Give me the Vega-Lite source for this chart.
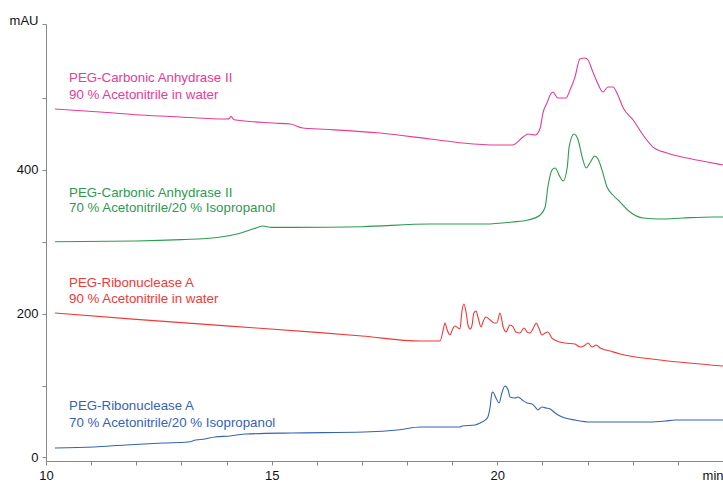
{
  "$schema": "https://vega.github.io/schema/vega-lite/v6.json",
  "width": 677,
  "height": 437,
  "autosize": {"type": "none"},
  "padding": {"left": 46, "top": 24, "right": 0, "bottom": 22},
  "background": "white",
  "config": {"view": {"stroke": null}, "font": "Liberation Sans"},
  "datasets": {
    "traces": [
      {"s": "CA90", "t": 10.2, "v": 484.7}, {"s": "CA90", "t": 11.2, "v": 480.5}, {"s": "CA90", "t": 12.08, "v": 476.4}, {"s": "CA90", "t": 12.97, "v": 473.6}, {"s": "CA90", "t": 13.97, "v": 470.8}, {"s": "CA90", "t": 14.05, "v": 471}, {"s": "CA90", "t": 14.1, "v": 474.5}, {"s": "CA90", "t": 14.16, "v": 470}, {"s": "CA90", "t": 14.21, "v": 469.4}, {"s": "CA90", "t": 15.03, "v": 465.2}, {"s": "CA90", "t": 15.41, "v": 463.8}, {"s": "CA90", "t": 15.69, "v": 458.3}, {"s": "CA90", "t": 16.07, "v": 456.9}, {"s": "CA90", "t": 17.4, "v": 451.3}, {"s": "CA90", "t": 18.51, "v": 443.0}, {"s": "CA90", "t": 19.24, "v": 437.4}, {"s": "CA90", "t": 19.99, "v": 434.6}, {"s": "CA90", "t": 20.33, "v": 434.6}, {"s": "CA90", "t": 20.57, "v": 445.7}, {"s": "CA90", "t": 20.68, "v": 449.9}, {"s": "CA90", "t": 20.84, "v": 448.5}, {"s": "CA90", "t": 20.95, "v": 458.3}, {"s": "CA90", "t": 21.01, "v": 479.1}, {"s": "CA90", "t": 21.1, "v": 493.1}, {"s": "CA90", "t": 21.17, "v": 504.2}, {"s": "CA90", "t": 21.23, "v": 508.4}, {"s": "CA90", "t": 21.34, "v": 500.0}, {"s": "CA90", "t": 21.52, "v": 500.0}, {"s": "CA90", "t": 21.61, "v": 511.1}, {"s": "CA90", "t": 21.72, "v": 529.2}, {"s": "CA90", "t": 21.83, "v": 554.3}, {"s": "CA90", "t": 21.94, "v": 555.7}, {"s": "CA90", "t": 22.01, "v": 552.9}, {"s": "CA90", "t": 22.1, "v": 539.0}, {"s": "CA90", "t": 22.21, "v": 522.3}, {"s": "CA90", "t": 22.34, "v": 508.4}, {"s": "CA90", "t": 22.45, "v": 515.3}, {"s": "CA90", "t": 22.56, "v": 515.3}, {"s": "CA90", "t": 22.67, "v": 504.2}, {"s": "CA90", "t": 22.79, "v": 486.1}, {"s": "CA90", "t": 23.01, "v": 469.4}, {"s": "CA90", "t": 23.23, "v": 448.5}, {"s": "CA90", "t": 23.45, "v": 431.8}, {"s": "CA90", "t": 23.76, "v": 423.5}, {"s": "CA90", "t": 24.2, "v": 416.5}, {"s": "CA90", "t": 24.65, "v": 411.0}, {"s": "CA90", "t": 25.0, "v": 406.8},

      {"s": "CA70", "t": 10.2, "v": 300}, {"s": "CA70", "t": 12.0, "v": 301}, {"s": "CA70", "t": 13.0, "v": 303}, {"s": "CA70", "t": 13.8, "v": 306}, {"s": "CA70", "t": 14.3, "v": 312}, {"s": "CA70", "t": 14.6, "v": 318}, {"s": "CA70", "t": 14.8, "v": 322}, {"s": "CA70", "t": 15.0, "v": 320}, {"s": "CA70", "t": 15.5, "v": 320}, {"s": "CA70", "t": 17.0, "v": 321}, {"s": "CA70", "t": 18.51, "v": 324.7}, {"s": "CA70", "t": 19.73, "v": 324.7}, {"s": "CA70", "t": 20.33, "v": 327.5}, {"s": "CA70", "t": 20.68, "v": 330.3}, {"s": "CA70", "t": 20.95, "v": 337.2}, {"s": "CA70", "t": 21.06, "v": 348.4}, {"s": "CA70", "t": 21.12, "v": 376.2}, {"s": "CA70", "t": 21.21, "v": 399.8}, {"s": "CA70", "t": 21.28, "v": 402.6}, {"s": "CA70", "t": 21.39, "v": 390.1}, {"s": "CA70", "t": 21.46, "v": 384.5}, {"s": "CA70", "t": 21.55, "v": 404.0}, {"s": "CA70", "t": 21.59, "v": 431.8}, {"s": "CA70", "t": 21.7, "v": 449.9}, {"s": "CA70", "t": 21.79, "v": 441.6}, {"s": "CA70", "t": 21.88, "v": 417.9}, {"s": "CA70", "t": 21.97, "v": 402.6}, {"s": "CA70", "t": 22.05, "v": 409.6}, {"s": "CA70", "t": 22.16, "v": 419.3}, {"s": "CA70", "t": 22.23, "v": 415.1}, {"s": "CA70", "t": 22.32, "v": 399.8}, {"s": "CA70", "t": 22.43, "v": 376.2}, {"s": "CA70", "t": 22.56, "v": 365.1}, {"s": "CA70", "t": 22.72, "v": 355.3}, {"s": "CA70", "t": 22.94, "v": 341.4}, {"s": "CA70", "t": 23.23, "v": 333.1}, {"s": "CA70", "t": 23.61, "v": 331.7}, {"s": "CA70", "t": 24.11, "v": 333.1}, {"s": "CA70", "t": 24.78, "v": 334.5}, {"s": "CA70", "t": 25.0, "v": 334.5},

      {"s": "RN90", "t": 10.2, "v": 200.9}, {"s": "RN90", "t": 12.0, "v": 192}, {"s": "RN90", "t": 14.0, "v": 183}, {"s": "RN90", "t": 16.0, "v": 174}, {"s": "RN90", "t": 17.0, "v": 169}, {"s": "RN90", "t": 18.29, "v": 161.9}, {"s": "RN90", "t": 18.73, "v": 161.9}, {"s": "RN90", "t": 18.8, "v": 177.3}, {"s": "RN90", "t": 18.84, "v": 187.0}, {"s": "RN90", "t": 18.89, "v": 177.3}, {"s": "RN90", "t": 18.95, "v": 170.3}, {"s": "RN90", "t": 19.02, "v": 180.0}, {"s": "RN90", "t": 19.06, "v": 182.8}, {"s": "RN90", "t": 19.13, "v": 180.0}, {"s": "RN90", "t": 19.17, "v": 178.6}, {"s": "RN90", "t": 19.22, "v": 205.1}, {"s": "RN90", "t": 19.26, "v": 213.4}, {"s": "RN90", "t": 19.31, "v": 200.9}, {"s": "RN90", "t": 19.35, "v": 184.2}, {"s": "RN90", "t": 19.4, "v": 178.6}, {"s": "RN90", "t": 19.44, "v": 184.2}, {"s": "RN90", "t": 19.48, "v": 200.9}, {"s": "RN90", "t": 19.53, "v": 203.7}, {"s": "RN90", "t": 19.57, "v": 195.3}, {"s": "RN90", "t": 19.64, "v": 181.4}, {"s": "RN90", "t": 19.68, "v": 188.4}, {"s": "RN90", "t": 19.75, "v": 195.3}, {"s": "RN90", "t": 19.84, "v": 191.2}, {"s": "RN90", "t": 19.93, "v": 187.0}, {"s": "RN90", "t": 19.99, "v": 187.0}, {"s": "RN90", "t": 20.06, "v": 200.9}, {"s": "RN90", "t": 20.13, "v": 181.4}, {"s": "RN90", "t": 20.19, "v": 174.5}, {"s": "RN90", "t": 20.28, "v": 184.2}, {"s": "RN90", "t": 20.35, "v": 181.4}, {"s": "RN90", "t": 20.41, "v": 174.5}, {"s": "RN90", "t": 20.5, "v": 173.1}, {"s": "RN90", "t": 20.59, "v": 180.0}, {"s": "RN90", "t": 20.66, "v": 174.5}, {"s": "RN90", "t": 20.72, "v": 173.1}, {"s": "RN90", "t": 20.81, "v": 181.4}, {"s": "RN90", "t": 20.86, "v": 187.0}, {"s": "RN90", "t": 20.92, "v": 180.0}, {"s": "RN90", "t": 20.99, "v": 170.3}, {"s": "RN90", "t": 21.06, "v": 173.1}, {"s": "RN90", "t": 21.12, "v": 174.5}, {"s": "RN90", "t": 21.21, "v": 166.1}, {"s": "RN90", "t": 21.32, "v": 161.9}, {"s": "RN90", "t": 21.5, "v": 159.2}, {"s": "RN90", "t": 21.72, "v": 157.8}, {"s": "RN90", "t": 21.83, "v": 153.6}, {"s": "RN90", "t": 21.92, "v": 155.0}, {"s": "RN90", "t": 22.01, "v": 159.2}, {"s": "RN90", "t": 22.1, "v": 153.6}, {"s": "RN90", "t": 22.19, "v": 156.4}, {"s": "RN90", "t": 22.28, "v": 152.2}, {"s": "RN90", "t": 22.5, "v": 148.0}, {"s": "RN90", "t": 22.72, "v": 143.9}, {"s": "RN90", "t": 23.61, "v": 135.5}, {"s": "RN90", "t": 25.0, "v": 127.2},

      {"s": "RN70", "t": 10.2, "v": 13.1}, {"s": "RN70", "t": 11.06, "v": 14.5}, {"s": "RN70", "t": 11.77, "v": 17.3}, {"s": "RN70", "t": 12.59, "v": 20.0}, {"s": "RN70", "t": 13.15, "v": 21.4}, {"s": "RN70", "t": 13.32, "v": 24.2}, {"s": "RN70", "t": 13.52, "v": 25.6}, {"s": "RN70", "t": 13.74, "v": 28.4}, {"s": "RN70", "t": 14.08, "v": 29.8}, {"s": "RN70", "t": 14.43, "v": 32.6}, {"s": "RN70", "t": 15.45, "v": 34.0}, {"s": "RN70", "t": 17.05, "v": 35.3}, {"s": "RN70", "t": 17.84, "v": 38.5}, {"s": "RN70", "t": 18.29, "v": 42.3}, {"s": "RN70", "t": 19.17, "v": 42.3}, {"s": "RN70", "t": 19.22, "v": 43.7}, {"s": "RN70", "t": 19.51, "v": 45.1}, {"s": "RN70", "t": 19.62, "v": 47.9}, {"s": "RN70", "t": 19.73, "v": 52.0}, {"s": "RN70", "t": 19.79, "v": 56.2}, {"s": "RN70", "t": 19.84, "v": 70.1}, {"s": "RN70", "t": 19.88, "v": 89.6}, {"s": "RN70", "t": 19.9, "v": 91.0}, {"s": "RN70", "t": 19.97, "v": 82.6}, {"s": "RN70", "t": 20.04, "v": 75.7}, {"s": "RN70", "t": 20.1, "v": 89.6}, {"s": "RN70", "t": 20.17, "v": 99.3}, {"s": "RN70", "t": 20.24, "v": 93.8}, {"s": "RN70", "t": 20.28, "v": 84.0}, {"s": "RN70", "t": 20.39, "v": 82.6}, {"s": "RN70", "t": 20.46, "v": 84.0}, {"s": "RN70", "t": 20.55, "v": 79.9}, {"s": "RN70", "t": 20.66, "v": 75.7}, {"s": "RN70", "t": 20.77, "v": 74.3}, {"s": "RN70", "t": 20.84, "v": 70.1}, {"s": "RN70", "t": 20.9, "v": 66.0}, {"s": "RN70", "t": 20.99, "v": 70.1}, {"s": "RN70", "t": 21.08, "v": 68.7}, {"s": "RN70", "t": 21.17, "v": 67.3}, {"s": "RN70", "t": 21.28, "v": 61.8}, {"s": "RN70", "t": 21.39, "v": 57.6}, {"s": "RN70", "t": 21.5, "v": 54.8}, {"s": "RN70", "t": 21.72, "v": 52.0}, {"s": "RN70", "t": 22.05, "v": 49.3}, {"s": "RN70", "t": 23.38, "v": 49.3}, {"s": "RN70", "t": 23.72, "v": 50.6}, {"s": "RN70", "t": 23.94, "v": 52.0}, {"s": "RN70", "t": 25.0, "v": 52.0}
    ],
    "labels": [
      {"s": "CA90", "t": 10.51, "v": 527.8, "text": "PEG-Carbonic Anhydrase II"},
      {"s": "CA90", "t": 10.51, "v": 504.2, "text": "90 % Acetonitrile in water"},
      {"s": "CA70", "t": 10.51, "v": 367.8, "text": "PEG-Carbonic Anhydrase II"},
      {"s": "CA70", "t": 10.51, "v": 347.0, "text": "70 % Acetonitrile/20 % Isopropanol"},
      {"s": "RN90", "t": 10.51, "v": 242.6, "text": "PEG-Ribonuclease A"},
      {"s": "RN90", "t": 10.51, "v": 220.4, "text": "90 % Acetonitrile in water"},
      {"s": "RN70", "t": 10.51, "v": 71.5, "text": "PEG-Ribonuclease A"},
      {"s": "RN70", "t": 10.51, "v": 47.9, "text": "70 % Acetonitrile/20 % Isopropanol"}
    ]
  },
  "layer": [
    {
      "data": {"name": "traces"},
      "mark": {"type": "line", "strokeWidth": 1.1, "interpolate": "monotone"},
      "encoding": {
        "x": {
          "field": "t", "type": "quantitative",
          "scale": {"domain": [10, 25], "nice": false, "zero": false},
          "axis": {
            "title": null, "grid": false,
            "values": [10, 11, 12, 13, 14, 15, 16, 17, 18, 19, 20, 21, 22, 23, 24, 25],
            "labelExpr": "datum.value == 25 ? 'min' : (datum.value % 5 == 0 ? datum.label : '')",
            "labelAlign": {"condition": {"test": "datum.value == 25", "value": "right"}, "value": "center"},
            "labelOverlap": false, "labelFontSize": 13, "labelColor": "#111111",
            "domainColor": "#888888", "tickColor": "#888888", "tickSize": 4, "labelPadding": 4
          }
        },
        "y": {
          "field": "v", "type": "quantitative",
          "scale": {"domain": [-5, 603], "nice": false, "zero": false},
          "axis": {
            "title": null, "grid": false,
            "values": [0, 100, 200, 300, 400, 500, 603],
            "labelExpr": "datum.value > 600 ? 'mAU' : (datum.value % 200 == 0 ? datum.label : '')",
            "labelBaseline": {"condition": {"test": "datum.value > 600", "value": "alphabetic"}, "value": "middle"},
            "labelOverlap": false, "labelFontSize": 13, "labelColor": "#111111",
            "domainColor": "#888888", "tickColor": "#888888", "tickSize": 4, "labelPadding": 4
          }
        },
        "color": {
          "field": "s", "type": "nominal",
          "scale": {"domain": ["CA90", "CA70", "RN90", "RN70"], "range": ["#EA3A92", "#2E9A50", "#F03838", "#3563B2"]},
          "legend": null
        }
      }
    },
    {
      "data": {"name": "labels"},
      "mark": {"type": "text", "align": "left", "baseline": "middle", "fontSize": 13.3},
      "encoding": {
        "x": {"field": "t", "type": "quantitative"},
        "y": {"field": "v", "type": "quantitative"},
        "text": {"field": "text"},
        "color": {
          "field": "s", "type": "nominal",
          "scale": {"domain": ["CA90", "CA70", "RN90", "RN70"], "range": ["#EA3A92", "#2E9A50", "#F03838", "#3563B2"]},
          "legend": null
        }
      }
    }
  ]
}
